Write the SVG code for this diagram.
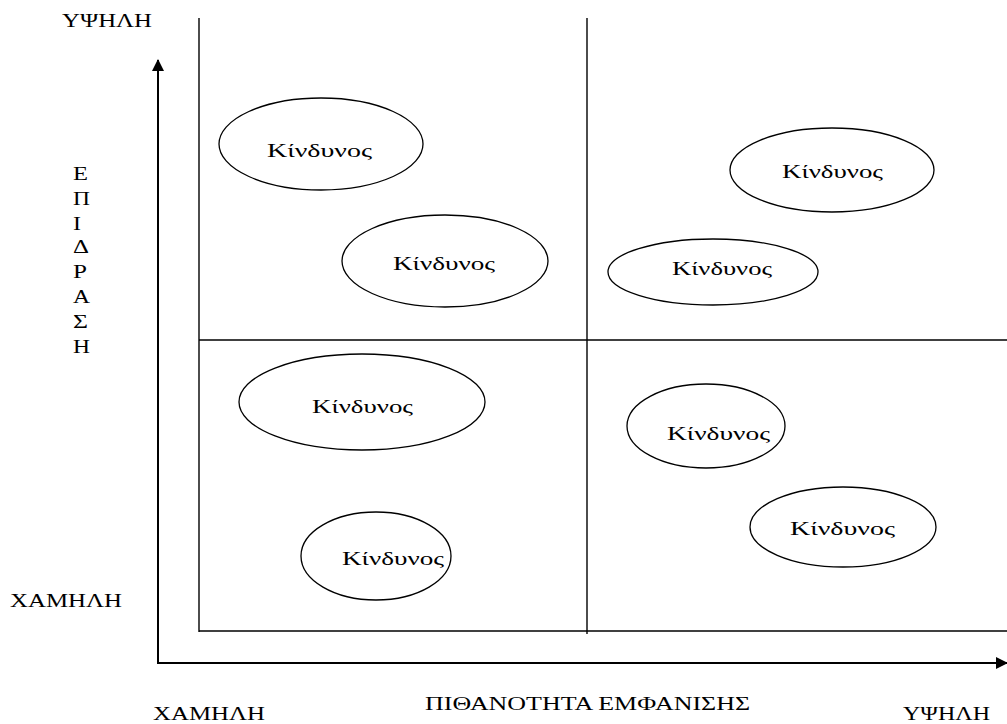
<svg xmlns="http://www.w3.org/2000/svg" width="1007" height="724" viewBox="0 0 1007 724">
<style>
.t{font-family:'Liberation Serif','DejaVu Serif',serif;font-size:19px;fill:#000}
.e{fill:none;stroke:#000;stroke-width:1.3}
.g{stroke:#000;stroke-width:1.4;fill:none}
.a{stroke:#000;stroke-width:2;fill:none}
</style>
<defs>
<marker id="ah" viewBox="0 0 12 12" refX="11" refY="6" markerWidth="12" markerHeight="12" markerUnits="userSpaceOnUse" orient="auto">
<path d="M0,0 L12,6 L0,12 Z" fill="#000"/>
</marker>
</defs>
<rect width="1007" height="724" fill="#fff"/>
<g id="connectors">
<line class="a" x1="158" y1="663" x2="158" y2="60" marker-end="url(#ah)"/>
<line class="a" x1="157" y1="663" x2="1007" y2="663" marker-end="url(#ah)"/>
<line class="g" x1="199" y1="18" x2="199" y2="632"/>
<line class="g" x1="587" y1="18" x2="587" y2="634"/>
<line class="g" x1="199" y1="340" x2="1007" y2="340"/>
<line class="g" x1="199" y1="631" x2="1007" y2="631"/>
</g>
<g id="labels">
<text class="t" font-family="Liberation Serif, serif" x="62" y="27" textLength="90" lengthAdjust="spacingAndGlyphs">ΥΨΗΛΗ</text>
<text class="t" font-family="Liberation Serif, serif" x="10" y="607" textLength="112" lengthAdjust="spacingAndGlyphs">ΧΑΜΗΛΗ</text>
<text class="t" font-family="Liberation Serif, serif" x="153" y="720" textLength="112" lengthAdjust="spacingAndGlyphs">ΧΑΜΗΛΗ</text>
<text class="t" font-family="Liberation Serif, serif" x="903" y="720" textLength="87" lengthAdjust="spacingAndGlyphs">ΥΨΗΛΗ</text>
<text class="t" font-family="Liberation Serif, serif" x="425" y="710" textLength="325" lengthAdjust="spacingAndGlyphs">ΠΙΘΑΝΟΤΗΤΑ ΕΜΦΑΝΙΣΗΣ</text>
<text class="t" font-family="Liberation Serif, serif" x="73" y="180" textLength="15" lengthAdjust="spacingAndGlyphs">Ε</text>
<text class="t" font-family="Liberation Serif, serif" x="73" y="205" textLength="17" lengthAdjust="spacingAndGlyphs">Π</text>
<text class="t" font-family="Liberation Serif, serif" x="73" y="230" textLength="8" lengthAdjust="spacingAndGlyphs">Ι</text>
<text class="t" font-family="Liberation Serif, serif" x="73" y="253" textLength="16" lengthAdjust="spacingAndGlyphs">Δ</text>
<text class="t" font-family="Liberation Serif, serif" x="73" y="278" textLength="14" lengthAdjust="spacingAndGlyphs">Ρ</text>
<text class="t" font-family="Liberation Serif, serif" x="73" y="303" textLength="17" lengthAdjust="spacingAndGlyphs">Α</text>
<text class="t" font-family="Liberation Serif, serif" x="73" y="328" textLength="15" lengthAdjust="spacingAndGlyphs">Σ</text>
<text class="t" font-family="Liberation Serif, serif" x="73" y="353" textLength="17" lengthAdjust="spacingAndGlyphs">Η</text>
</g>
<g id="risk1"><ellipse class="e" cx="321" cy="144" rx="102" ry="46"/><text class="t" font-family="Liberation Serif, serif" x="267" y="157" textLength="105" lengthAdjust="spacingAndGlyphs">Κίνδυνος</text></g>
<g id="risk2"><ellipse class="e" cx="445" cy="261" rx="103" ry="46"/><text class="t" font-family="Liberation Serif, serif" x="393" y="270" textLength="102" lengthAdjust="spacingAndGlyphs">Κίνδυνος</text></g>
<g id="risk3"><ellipse class="e" cx="832" cy="170" rx="102" ry="42"/><text class="t" font-family="Liberation Serif, serif" x="782" y="178" textLength="101" lengthAdjust="spacingAndGlyphs">Κίνδυνος</text></g>
<g id="risk4"><ellipse class="e" cx="713" cy="272" rx="105" ry="33"/><text class="t" font-family="Liberation Serif, serif" x="672" y="275" textLength="100" lengthAdjust="spacingAndGlyphs">Κίνδυνος</text></g>
<g id="risk5"><ellipse class="e" cx="362" cy="402" rx="123" ry="48"/><text class="t" font-family="Liberation Serif, serif" x="312" y="413" textLength="101" lengthAdjust="spacingAndGlyphs">Κίνδυνος</text></g>
<g id="risk6"><ellipse class="e" cx="706" cy="426" rx="79" ry="42"/><text class="t" font-family="Liberation Serif, serif" x="667" y="440" textLength="103" lengthAdjust="spacingAndGlyphs">Κίνδυνος</text></g>
<g id="risk7"><ellipse class="e" cx="843" cy="527" rx="93" ry="40"/><text class="t" font-family="Liberation Serif, serif" x="790" y="535" textLength="105" lengthAdjust="spacingAndGlyphs">Κίνδυνος</text></g>
<g id="risk8"><ellipse class="e" cx="376" cy="556" rx="75" ry="44"/><text class="t" font-family="Liberation Serif, serif" x="342" y="565" textLength="102" lengthAdjust="spacingAndGlyphs">Κίνδυνος</text></g>
</svg>
